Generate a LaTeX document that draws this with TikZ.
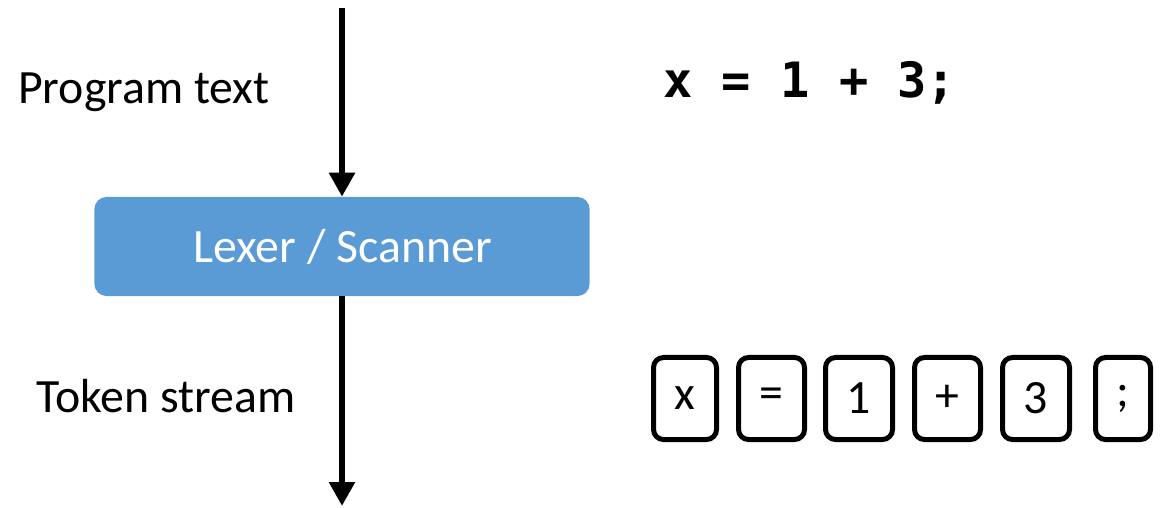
\documentclass[tikz,border=0pt]{standalone}
\usepackage{fontspec}
\setmainfont{Carlito}
\newfontfamily\codefont{DejaVu Sans Mono}
\usetikzlibrary{arrows.meta}
\definecolor{lexblue}{RGB}{91,155,213}

\begin{document}
\begin{tikzpicture}[x=0.025cm,y=-0.025cm,
  lbl/.style={font=\fontsize{34}{40}\selectfont,inner sep=0pt},
  tokbox/.style={draw,line width=0.125cm,rounded corners=0.25cm,minimum height=2.05cm,inner sep=0pt,font=\fontsize{34}{38}\selectfont},
  flow/.style={line width=0.17cm,-{Triangle[length=0.6cm,width=0.62cm]}}]
\useasboundingbox (0,0) rectangle (1176,507);
% scanner box
\node[fill=lexblue,rounded corners=0.3cm,minimum width=12.375cm,minimum height=2.475cm] (lexer) at (342,246.5) {};
\node[lbl,text=white,anchor=base] (lexlbl) at (342.5,262) {Lexer / Scanner};
% arrows
\coordinate (top) at (342,8);
\coordinate (bottom) at (342,506);
\draw[flow] (top) -- (lexer.north);
\draw[flow] (lexer.south) -- (bottom);
% labels
\node[lbl,anchor=base west] (prog) at (18,103) {Program text};
\node[lbl,anchor=base west] (tokens) at (36,412) {Token stream};
\node[anchor=base west,inner sep=0pt,font=\codefont\bfseries\fontsize{34.6}{40}\selectfont] (code) at (663,97) {x = 1 + 3;};
% tokens
\foreach \cx/\w/\t [count=\i] in {685/63/x, 771.5/66/=, 859/67/1, 947.5/66/+, 1036/67/3, 1123/55/;}{
  \node[tokbox,minimum width=\w*0.025cm] (tok\i) at (\cx,398.5) {\t};
}
\end{tikzpicture}
\end{document}
